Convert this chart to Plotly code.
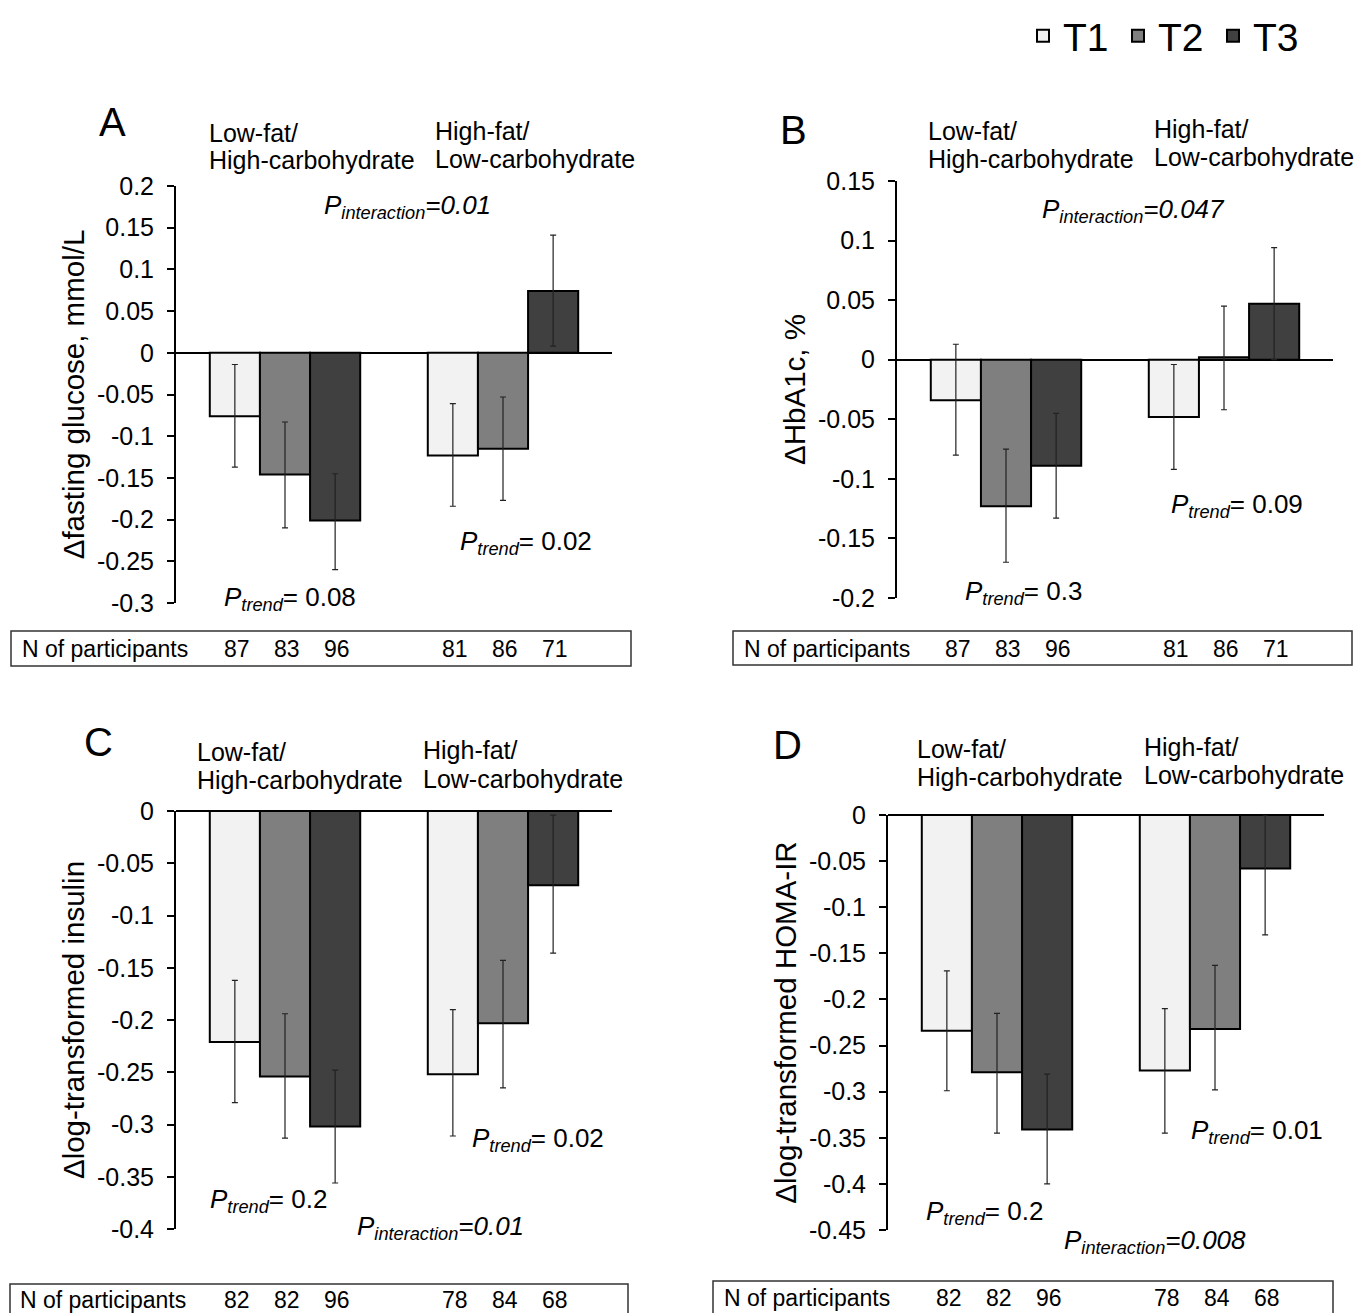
import numpy as np
import plotly.graph_objects as go

# ---------------- data ----------------
categories = ["Low-fat/High-carbohydrate", "High-fat/Low-carbohydrate"]
terciles = ["T1", "T2", "T3"]
tercile_colors = ["#f2f2f2", "#7f7f7f", "#404040"]

# rows = T1, T2, T3 ; columns = [Low-fat/High-carb, High-fat/Low-carb]
glucose_mean = [[-0.076, -0.123], [-0.146, -0.115], [-0.201, 0.074]]
glucose_lower = [[-0.137, -0.184], [-0.210, -0.177], [-0.260, 0.008]]
glucose_upper = [[-0.014, -0.061], [-0.083, -0.053], [-0.145, 0.141]]
glucose_n = [[87, 81], [83, 86], [96, 71]]
glucose_p_trend = ["0.08", "0.02"]
glucose_p_interaction = "0.01"

hba1c_mean = [[-0.034, -0.048], [-0.123, 0.002], [-0.089, 0.047]]
hba1c_lower = [[-0.080, -0.092], [-0.170, -0.042], [-0.133, 0.000]]
hba1c_upper = [[0.013, -0.004], [-0.075, 0.045], [-0.045, 0.094]]
hba1c_n = [[87, 81], [83, 86], [96, 71]]
hba1c_p_trend = ["0.3", "0.09"]
hba1c_p_interaction = "0.047"

insulin_mean = [[-0.221, -0.252], [-0.254, -0.203], [-0.302, -0.071]]
insulin_lower = [[-0.279, -0.311], [-0.313, -0.265], [-0.356, -0.136]]
insulin_upper = [[-0.162, -0.190], [-0.194, -0.143], [-0.248, -0.004]]
insulin_n = [[82, 78], [82, 84], [96, 68]]
insulin_p_trend = ["0.2", "0.02"]
insulin_p_interaction = "0.01"

homa_mean = [[-0.234, -0.277], [-0.279, -0.232], [-0.341, -0.058]]
homa_lower = [[-0.299, -0.345], [-0.345, -0.298], [-0.400, -0.130]]
homa_upper = [[-0.169, -0.210], [-0.215, -0.163], [-0.281, 0.000]]
homa_n = [[82, 78], [82, 84], [96, 68]]
homa_p_trend = ["0.2", "0.01"]
homa_p_interaction = "0.008"

glucose_ticks = [0.2, 0.15, 0.1, 0.05, 0, -0.05, -0.1, -0.15, -0.2, -0.25, -0.3]
hba1c_ticks = [0.15, 0.1, 0.05, 0, -0.05, -0.1, -0.15, -0.2]
insulin_ticks = [0, -0.05, -0.1, -0.15, -0.2, -0.25, -0.3, -0.35, -0.4]
homa_ticks = [0, -0.05, -0.1, -0.15, -0.2, -0.25, -0.3, -0.35, -0.4, -0.45]

y_titles = ["Δfasting glucose, mmol/L", "ΔHbA1c, %",
            "Δlog-transformed insulin", "Δlog-transformed HOMA-IR"]
panel_letters = ["A", "B", "C", "D"]
group_label_lines = [["Low-fat/", "High-carbohydrate"], ["High-fat/", "Low-carbohydrate"]]
n_label = "N of participants"

# ---------------- layout helpers ----------------
W, H = 1368, 1313
OFF = 8  # page body margin
FONT = "Arial, 'Liberation Sans', sans-serif"
BARGAP = 0.31
BAR_W = (1 - BARGAP) / 3


def px(x):
    return (x - OFF) / W


def py(y):
    return 1 - (y - OFF) / H


def tick_text(v):
    return f"{v:g}"


panels = [
    dict(mean=glucose_mean, lower=glucose_lower, upper=glucose_upper, n=glucose_n,
         ticks=glucose_ticks, pt=glucose_p_trend, pi=glucose_p_interaction,
         xpx=(176, 612), ypx=(186, 603), rng=(-0.3, 0.2),
         letter=(112, 122), groups=[(207, 133, 160), (433, 131, 159)],
         pi_pos=(407, 206), pt_pos=[(290, 598), (526, 542)],
         box=(11, 631, 631, 666), nlab=(20, 649)),
    dict(mean=hba1c_mean, lower=hba1c_lower, upper=hba1c_upper, n=hba1c_n,
         ticks=hba1c_ticks, pt=hba1c_p_trend, pi=hba1c_p_interaction,
         xpx=(897, 1333), ypx=(181, 598), rng=(-0.2, 0.15),
         letter=(793, 130), groups=[(926, 131, 159), (1152, 129, 157)],
         pi_pos=(1133, 210), pt_pos=[(1023, 592), (1237, 506)],
         box=(733, 1352, 631, 665), nlab=(742, 649)),
    dict(mean=insulin_mean, lower=insulin_lower, upper=insulin_upper, n=insulin_n,
         ticks=insulin_ticks, pt=insulin_p_trend, pi=insulin_p_interaction,
         xpx=(176, 612), ypx=(811, 1229), rng=(-0.4, 0.0),
         letter=(98, 742), groups=[(195, 752, 780), (421, 750, 779)],
         pi_pos=(440, 1227), pt_pos=[(268, 1200), (538, 1139)],
         box=(10, 628, 1284, 1330), nlab=(18, 1300)),
    dict(mean=homa_mean, lower=homa_lower, upper=homa_upper, n=homa_n,
         ticks=homa_ticks, pt=homa_p_trend, pi=homa_p_interaction,
         xpx=(888, 1324), ypx=(815, 1230), rng=(-0.45, 0.0),
         letter=(787, 745), groups=[(915, 749, 777), (1142, 747, 775)],
         pi_pos=(1155, 1241), pt_pos=[(984, 1212), (1257, 1131)],
         box=(713, 1333, 1281, 1330), nlab=(722, 1298)),
]

fig = go.Figure()
annotations = []
shapes = []
layout_axes = {}


def note(text, x, y, size, xanchor="center"):
    return dict(text=text, x=px(x), y=py(y), xref="paper", yref="paper",
                xanchor=xanchor, yanchor="middle", showarrow=False,
                font=dict(size=size, color="black", family=FONT))


for k, p in enumerate(panels):
    sfx = "" if k == 0 else str(k + 1)
    xref, yref = "x" + sfx, "y" + sfx
    for t in range(3):
        mean = np.array(p["mean"][t])
        lo = np.array(p["lower"][t])
        up = np.array(p["upper"][t])
        fig.add_trace(go.Bar(
            x=categories, y=mean, name=terciles[t],
            marker=dict(color=tercile_colors[t], line=dict(color="black", width=2)),
            error_y=dict(type="data", symmetric=False, array=up - mean,
                         arrayminus=mean - lo, color="#222222", thickness=1.2, width=3),
            xaxis=xref, yaxis=yref, showlegend=(k == 0), legendgroup=terciles[t],
        ))
    layout_axes["xaxis" + sfx] = dict(
        domain=[px(p["xpx"][0]), px(p["xpx"][1])], anchor=yref,
        type="category", range=[-0.5, 1.5], showline=False, showticklabels=False,
        ticks="", showgrid=False, zeroline=False, fixedrange=True, automargin=False)
    layout_axes["yaxis" + sfx] = dict(
        domain=[py(p["ypx"][1]), py(p["ypx"][0])], anchor=xref,
        range=list(p["rng"]), tickmode="array", tickvals=p["ticks"],
        ticktext=[tick_text(v) for v in p["ticks"]],
        showline=True, linecolor="black", linewidth=2, ticks="outside",
        ticklen=7, tickwidth=2, tickcolor="black", ticklabelstandoff=8,
        tickfont=dict(size=25, color="black", family=FONT),
        showgrid=False, zeroline=True, zerolinecolor="black", zerolinewidth=2,
        title=dict(text=y_titles[k], font=dict(size=29.5, color="black", family=FONT),
                   standoff=4),
        fixedrange=True, automargin=False)

    annotations.append(note(panel_letters[k], *p["letter"], 40))
    for g, (gx, gy1, gy2) in enumerate(p["groups"]):
        for line, gy in zip(group_label_lines[g], (gy1, gy2)):
            annotations.append(note(line, gx, gy, 25, xanchor="left"))
    annotations.append(note("<i>P<sub>interaction</sub>=" + p["pi"] + "</i>",
                            *p["pi_pos"], 26))
    for g in range(2):
        annotations.append(note("<i>P<sub>trend</sub></i>= " + p["pt"][g],
                                *p["pt_pos"][g], 26))
    bx0, bx1, by0, by1 = p["box"]
    shapes.append(dict(type="rect", xref="paper", yref="paper",
                       x0=px(bx0), x1=px(bx1), y0=py(by1), y1=py(by0),
                       line=dict(color="#333333", width=1.5), fillcolor="rgba(0,0,0,0)"))
    annotations.append(note(n_label, *p["nlab"], 23, xanchor="left"))
    for t in range(3):
        for g in range(2):
            annotations.append(dict(
                text=str(p["n"][t][g]), x=g + (t - 1) * BAR_W, xref=xref, xshift=2,
                y=py(p["nlab"][1]), yref="paper", xanchor="center", yanchor="middle",
                showarrow=False, font=dict(size=23, color="black", family=FONT)))

fig.update_layout(
    width=W, height=H, margin=dict(l=0, r=0, t=0, b=0, autoexpand=False),
    paper_bgcolor="white", plot_bgcolor="white",
    barmode="group", bargap=BARGAP, bargroupgap=0,
    font=dict(family=FONT, color="black"),
    showlegend=True,
    legend=dict(orientation="h", x=px(1023), y=py(4), xanchor="left", yanchor="top",
                font=dict(size=39, color="black", family=FONT),
                entrywidth=50, entrywidthmode="pixels", itemwidth=30,
                bgcolor="rgba(0,0,0,0)", traceorder="normal"),
    annotations=annotations, shapes=shapes,
    **layout_axes,
)

fig.write_html("out.html")
